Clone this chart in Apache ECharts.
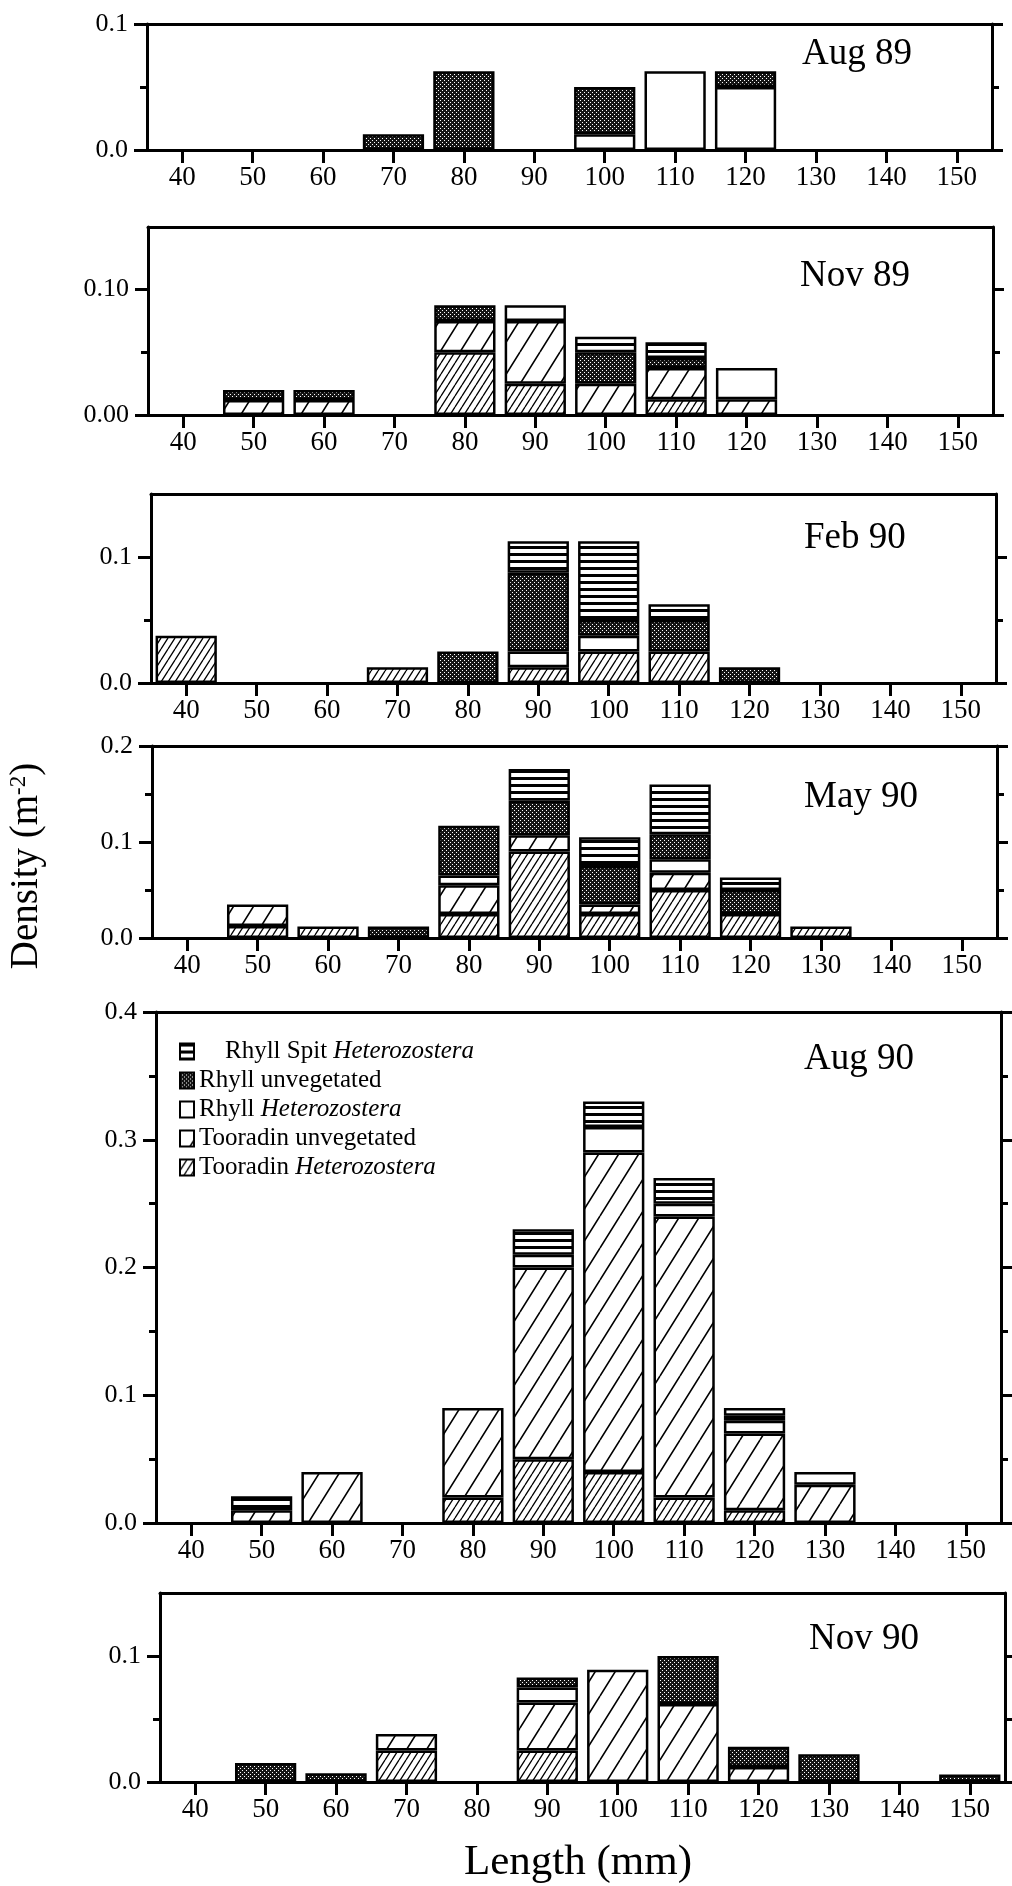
<!DOCTYPE html>
<html><head><meta charset="utf-8">
<script src="https://cdn.jsdelivr.net/npm/echarts@6/dist/echarts.min.js"></script>
<style>html,body{margin:0;padding:0;background:#fff}#c{width:1012px;height:1886px}</style>
</head><body><div id="c"></div>
<script>
// ---- categories (length classes, mm) ----
const categories = ['40','50','60','70','80','90','100','110','120','130','140','150'];
const seriesNames = ['Tooradin Heterozostera','Tooradin unvegetated','Rhyll Heterozostera','Rhyll unvegetated','Rhyll Spit Heterozostera'];
const legendOrder = ['Rhyll Spit Heterozostera','Rhyll unvegetated','Rhyll Heterozostera','Tooradin unvegetated','Tooradin Heterozostera'];
const panelTitles = ['Aug 89','Nov 89','Feb 90','May 90','Aug 90','Nov 90'];

// ---- Aug 89 ----
const aug89_TH = [0,0,0,0,0,0,0,0,0,0,0,0];
const aug89_TU = [0,0,0,0,0,0,0,0,0,0,0,0];
const aug89_RH = [0,0,0,0,0,0,0.0125,0.0625,0.05,0,0,0];
const aug89_RU = [0,0,0,0.0125,0.0625,0,0.0375,0,0.0125,0,0,0];
const aug89_RS = [0,0,0,0,0,0,0,0,0,0,0,0];
// ---- Nov 89 ----
const nov89_TH = [0,0,0,0,0.05,0.025,0,0.0125,0,0,0,0];
const nov89_TU = [0,0.012,0.012,0,0.025,0.05,0.025,0.025,0.0125,0,0,0];
const nov89_RH = [0,0,0,0,0,0.0125,0,0,0.025,0,0,0];
const nov89_RU = [0,0.008,0.008,0,0.0125,0,0.025,0.008,0,0,0,0];
const nov89_RS = [0,0,0,0,0,0,0.0125,0.0125,0,0,0,0];
// ---- Feb 90 ----
const feb90_TH = [0.0375,0,0,0.0125,0,0.0125,0.025,0.025,0,0,0,0];
const feb90_TU = [0,0,0,0,0,0,0,0,0,0,0,0];
const feb90_RH = [0,0,0,0,0,0.0125,0.0125,0,0,0,0,0];
const feb90_RU = [0,0,0,0,0.025,0.0625,0.0125,0.025,0.0125,0,0,0];
const feb90_RS = [0,0,0,0,0,0.025,0.0625,0.0125,0,0,0,0];
// ---- May 90 ----
const may90_TH = [0,0.0125,0.012,0,0.025,0.09,0.025,0.05,0.025,0.012,0,0];
const may90_TU = [0,0.0225,0,0,0.03,0.017,0.01,0.018,0,0,0,0];
const may90_RH = [0,0,0,0,0.01,0,0,0.014,0,0,0,0];
const may90_RU = [0,0,0,0.012,0.052,0.036,0.04,0.026,0.025,0,0,0];
const may90_RS = [0,0,0,0,0,0.033,0.03,0.052,0.013,0,0,0];
// ---- Aug 90 ----
const aug90_TH = [0,0,0,0,0.02,0.05,0.04,0.02,0.01,0,0,0];
const aug90_TU = [0,0.01,0.04,0,0.07,0.15,0.25,0.22,0.06,0.03,0,0];
const aug90_RH = [0,0,0,0,0,0.01,0.02,0.01,0.01,0.01,0,0];
const aug90_RU = [0,0,0,0,0,0,0,0,0.004,0,0,0];
const aug90_RS = [0,0.011,0,0,0,0.02,0.02,0.02,0.006,0,0,0];
// ---- Nov 90 ----
const nov90_TH = [0,0,0,0.025,0,0.025,0,0,0,0,0,0];
const nov90_TU = [0,0,0,0.013,0,0.038,0.089,0.062,0.012,0,0,0];
const nov90_RH = [0,0,0,0,0,0.012,0,0,0,0,0,0];
const nov90_RU = [0,0.015,0.007,0,0,0.008,0,0.038,0.016,0.022,0,0.006];
const nov90_RS = [0,0,0,0,0,0,0,0,0,0,0,0];

// ---- y-axis ticks / labels per panel ----
const yMax = [0.1, 0.15, 0.15, 0.2, 0.4, 0.15];
const yMajor = [[0,0.1],[0,0.1],[0,0.1],[0,0.1,0.2],[0,0.1,0.2,0.3,0.4],[0,0.1]];
const yMinor = [[0.05],[0.05],[0.05],[0.05,0.15],[0.05,0.15,0.25,0.35],[0.05]];
const yDecimals = [1,2,1,1,1,1];

const panelData = [
  [aug89_TH,aug89_TU,aug89_RH,aug89_RU,aug89_RS],
  [nov89_TH,nov89_TU,nov89_RH,nov89_RU,nov89_RS],
  [feb90_TH,feb90_TU,feb90_RH,feb90_RU,feb90_RS],
  [may90_TH,may90_TU,may90_RH,may90_RU,may90_RS],
  [aug90_TH,aug90_TU,aug90_RH,aug90_RU,aug90_RS],
  [nov90_TH,nov90_TU,nov90_RH,nov90_RU,nov90_RS]];

// ---- layout (px) ----
const gridBoxes = [
  {left:147, top:24,   height:126},
  {left:148, top:227,  height:188},
  {left:151, top:494,  height:189},
  {left:152, top:746,  height:192},
  {left:156, top:1012, height:511},
  {left:160, top:1593, height:189}];
const GRID_W = 845;
const titlePos = [[802,56],[800,278],[804,540],[804,799],[804,1061],[809,1641]];

// ---- fill patterns ----
function mk(w,h,draw){const c=document.createElement('canvas');c.width=w;c.height=h;const g=c.getContext('2d');g.fillStyle='#fff';g.fillRect(0,0,w,h);draw(g,w,h);return {image:c,repeat:'repeat'};}
function hatch(w,h,lw){return mk(w,h,(g)=>{g.strokeStyle='#000';g.lineWidth=lw;g.beginPath();for(let k=-1;k<=1;k++){g.moveTo(k*w,h);g.lineTo(k*w+w,0);}g.stroke();});}
const patDense = hatch(7,11,1.3);
const patSparse = hatch(20,32,1.6);
const patWhite = '#ffffff';
const patStip = mk(4,4,(g)=>{g.fillStyle='#151515';g.fillRect(0,0,4,4);g.fillStyle='#fff';g.fillRect(0,0,1,1);g.fillRect(2,2,1,1);});
const patHoriz = mk(8,7,(g)=>{g.fillStyle='#000';g.fillRect(0,0,8,3);});
const fills = [patDense, patSparse, patWhite, patStip, patHoriz];

const FONT = 'Liberation Serif';
const grids=[], xAxes=[], yAxes=[], series=[], graphics=[];
function tickAxis(i, pos, vals, len, showLine, labels, dec){
  return {gridIndex:i, type:'value', min:0, max:yMax[i], position:pos,
    axisLine:{show:showLine, onZero:false, lineStyle:{color:'#000', width:3}},
    axisTick:{show:true, customValues:vals, length:len, lineStyle:{color:'#000', width:3}},
    axisLabel: labels ? {customValues:labels, formatter:(v)=>Number(v).toFixed(dec), color:'#000', fontFamily:FONT, fontSize:26, margin:19}
                      : {show:false},
    splitLine:{show:false}};
}
for (let i=0;i<6;i++){
  const b = gridBoxes[i];
  grids.push({left:b.left, top:b.top, width:GRID_W, height:b.height, show:false});
  xAxes.push({gridIndex:i, type:'category', data:categories, position:'bottom',
    axisLine:{show:true, onZero:false, lineStyle:{color:'#000', width:3}},
    axisTick:{show:true, alignWithLabel:true, length:13, lineStyle:{color:'#000', width:3}},
    axisLabel:{color:'#000', fontFamily:FONT, fontSize:27, margin:14},
    splitLine:{show:false}});
  xAxes.push({gridIndex:i, type:'category', data:categories, position:'top',
    axisLine:{show:true, onZero:false, lineStyle:{color:'#000', width:3}},
    axisTick:{show:false}, axisLabel:{show:false}, splitLine:{show:false}});
  const base = yAxes.length;
  yAxes.push(tickAxis(i,'left', yMajor[i], 13, true, yMajor[i], yDecimals[i]));
  yAxes.push(tickAxis(i,'left', yMinor[i], 7, false, null, 0));
  yAxes.push(tickAxis(i,'right', yMajor[i], 11, true, null, 0));
  yAxes.push(tickAxis(i,'right', yMinor[i], 7, false, null, 0));
  for (let s=0;s<5;s++){
    series.push({type:'bar', name:seriesNames[s], xAxisIndex:2*i, yAxisIndex:base, stack:'p'+i,
      barCategoryGap:'13%', animation:false,
      itemStyle:{color:fills[s], borderColor:'#000', borderWidth:2.5},
      emphasis:{disabled:true},
      data: panelData[i][s].map(v=> v>0 ? v : '-')});
  }
  graphics.push({type:'text', left:titlePos[i][0], top:titlePos[i][1]-20,
    style:{text:panelTitles[i], font:'37px "Liberation Serif"', fill:'#000'}});
}
graphics.push({type:'text', x:27, y:866, rotation:Math.PI/2,
  style:{text:'{a|Density (m}{s|-2}{a|)}', align:'center', verticalAlign:'middle',
    rich:{a:{font:'39px "Liberation Serif"', fill:'#000'}, s:{font:'23px "Liberation Serif"', fill:'#000', verticalAlign:'top'}}}});
graphics.push({type:'text', x:578, y:1863,
  style:{text:'Length (mm)', font:'43px "Liberation Serif"', fill:'#000', align:'center', verticalAlign:'middle'}});

const chart = echarts.init(document.getElementById('c'), null, {renderer:'canvas'});
chart.setOption({
  backgroundColor:'#fff', animation:false,
  grid:grids, xAxis:xAxes, yAxis:yAxes, series:series, graphic:graphics,
  legend:{data:legendOrder, orient:'vertical', left:174, top:1034, itemWidth:14, itemHeight:16, itemGap:4,
    icon:'rect', selectedMode:false,
    textStyle:{fontFamily:FONT, fontSize:25, color:'#000', lineHeight:24,
      rich:{i:{fontStyle:'italic', fontFamily:FONT, fontSize:25, color:'#000', lineHeight:24},
            n:{fontFamily:FONT, fontSize:25, color:'#000', lineHeight:24},
            q:{width:26}}},
    formatter:(n)=> (n.indexOf('Spit')>=0 ? '{q|}' : '') + '{n|' + n.replace(' Heterozostera','') + (n.indexOf('Heterozostera')>=0 ? ' }{i|Heterozostera}' : '}')}
});
</script></body></html>
